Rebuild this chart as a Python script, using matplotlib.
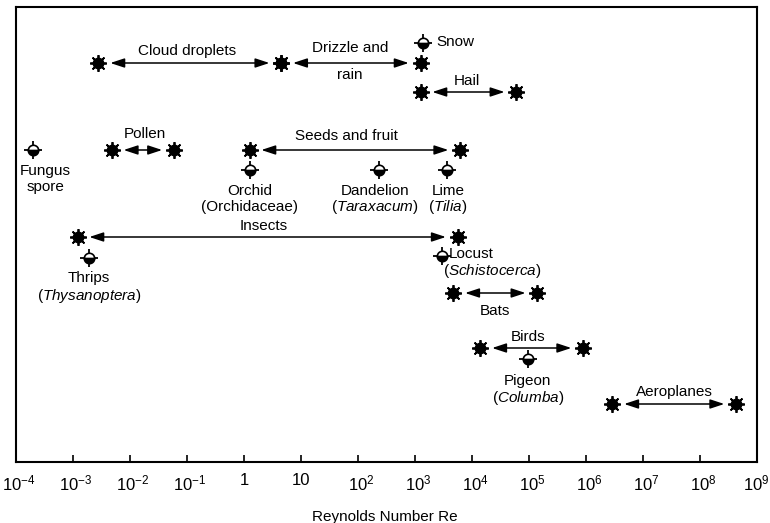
import matplotlib
matplotlib.use("Agg")
import matplotlib.pyplot as plt
import matplotlib.transforms as mtransforms
from matplotlib.ticker import FixedLocator, FixedFormatter

plt.rcParams['font.family'] = ['Liberation Sans', 'DejaVu Sans']
plt.rcParams['mathtext.fontset'] = 'custom'
plt.rcParams['mathtext.rm'] = 'Liberation Sans'
plt.rcParams['mathtext.it'] = 'Liberation Sans:italic'

# ---------------- data (Reynolds numbers) ----------------
range_names = ["Cloud droplets", "Drizzle and rain", "Hail", "Pollen",
               "Seeds and fruit", "Insects", "Bats", "Birds", "Aeroplanes"]
range_lo = [2.8e-3, 4.5, 1.25e3, 4.8e-3, 1.25, 1.2e-3, 4.7e3, 1.4e4, 2.9e6]
range_hi = [4.5, 1.25e3, 6.0e4, 0.059, 6.2e3, 5.6e3, 1.4e5, 8.9e5, 4.3e8]

point_names = ["Snow", "Fungus spore", "Orchid", "Dandelion", "Lime",
               "Thrips", "Locust", "Pigeon"]
point_vals = [1.4e3, 2.0e-4, 1.27, 2.3e2, 3.6e3, 1.9e-3, 3.0e3, 9.5e4]

tick_exps = list(range(-4, 10))
tick_labels = ["$10^{%d}$" % e if e not in (0, 1) else ("1" if e == 0 else "10")
               for e in tick_exps]

# ---------------- layout (row positions, label placement) ----------------
range_rows = [63, 63, 92, 150, 150, 237, 293, 348, 404]
range_label_pos = [  # (x in Re, y row, text)
    (0.1, 51, "Cloud droplets"),
    (72, 48, "Drizzle and"),
    (72, 75, "rain"),
    (8.2e3, 81, "Hail"),
    (0.018, 134, "Pollen"),
    (62, 136, "Seeds and fruit"),
    (2.2, 226, "Insects"),
    (2.5e4, 311, "Bats"),
    (9.6e4, 337, "Birds"),
    (3.6e7, 392, "Aeroplanes"),
]
point_rows = [43, 150, 170, 170, 170, 258, 256, 359]
point_label_pos = [  # (x, y, text, ha, style)
    (2.4e3, 42, "Snow", "left", "normal"),
    (3.3e-4, 171, "Fungus", "center", "normal"),
    (3.3e-4, 187, "spore", "center", "normal"),
    (1.27, 191, "Orchid", "center", "normal"),
    (1.27, 207, "(Orchidaceae)", "center", "normal"),
    (2.0e2, 191, "Dandelion", "center", "normal"),
    (2.0e2, 207, "(Taraxacum)", "center", "italic_paren"),
    (3.8e3, 191, "Lime", "center", "normal"),
    (3.8e3, 207, "(Tilia)", "center", "italic_paren"),
    (1.9e-3, 278, "Thrips", "center", "normal"),
    (1.9e-3, 296, "(Thysanoptera)", "center", "italic_paren"),
    (3.9e3, 254, "Locust", "left", "normal"),
    (3.1e3, 271, "(Schistocerca)", "left", "italic_paren"),
    (9.5e4, 381, "Pigeon", "center", "normal"),
    (9.5e4, 398, "(Columba)", "center", "italic_paren"),
]

W, H = 770, 523
fig = plt.figure(figsize=(W / 100, H / 100), dpi=100)
ax = fig.add_axes([16 / W, 1 - 462 / H, (757 - 16) / W, (462 - 7) / H])
ax.set_xscale('log')
ax.set_xlim(1e-4, 1e9)
ax.set_ylim(462, 7)

FS = 11


def star(x, y):
    ax.plot([x], [y], ls='none', marker=(8, 2, 0), ms=12, mew=1.3, color='k', zorder=4)
    ax.plot([x], [y], ls='none', marker='o', ms=7.5, color='k', zorder=5)


def half(x, y):
    ax.plot([x], [y], ls='none', marker='_', ms=13, mew=1.3, color='k', zorder=4)
    ax.plot([x], [y], ls='none', marker='|', ms=13, mew=1.3, color='k', zorder=4)
    ax.plot([x], [y], ls='none', marker='o', ms=7.5, fillstyle='bottom',
            markerfacecolor='k', markerfacecoloralt='white', mec='k', mew=1.2, zorder=5)


for lo, hi, row in zip(range_lo, range_hi, range_rows):
    ax.annotate('', xy=(hi, row), xytext=(lo, row),
                arrowprops=dict(arrowstyle='<|-|>,head_length=0.85,head_width=0.28',
                                color='k', lw=1.1, shrinkA=8.5, shrinkB=8.5,
                                mutation_scale=10), zorder=3)
    star(lo, row)
    star(hi, row)

for v, row in zip(point_vals, point_rows):
    half(v, row)

for x, y, t in range_label_pos:
    ax.text(x, y, t, ha='center', va='center', fontsize=FS)


def paren_italic(x, y, t, ha):
    inner = t.strip('()')
    s = r"$\mathrm{(}\mathit{%s}\mathrm{)}$" % inner
    ax.text(x, y, s, ha=ha, va='center', fontsize=FS)


for x, y, t, ha, st in point_label_pos:
    if st == 'italic_paren':
        paren_italic(x, y, t, ha)
    else:
        ax.text(x, y, t, ha=ha, va='center', fontsize=FS)

ax.xaxis.set_major_locator(FixedLocator([10.0 ** e for e in tick_exps]))
ax.xaxis.set_major_formatter(FixedFormatter(tick_labels))
ax.xaxis.set_minor_locator(FixedLocator([]))
ax.tick_params(axis='x', direction='in', length=5, width=1.2, labelsize=12, pad=8)
ax.set_yticks([])
for s in ax.spines.values():
    s.set_linewidth(1.5)

# shift superscripted labels so that the "10" sits near the centre of its tick
last = tick_exps[-1]
for lab, e in zip(ax.get_xticklabels(), tick_exps):
    if e not in (0, 1):
        dx = 3 if e != last else -1
        lab.set_transform(lab.get_transform() +
                          mtransforms.ScaledTranslation(dx / 100, 0, fig.dpi_scale_trans))

fig.text(385 / W, 1 - 517 / H, "Reynolds Number Re", ha='center', va='center', fontsize=FS)

fig.savefig("out.png", dpi=100)
